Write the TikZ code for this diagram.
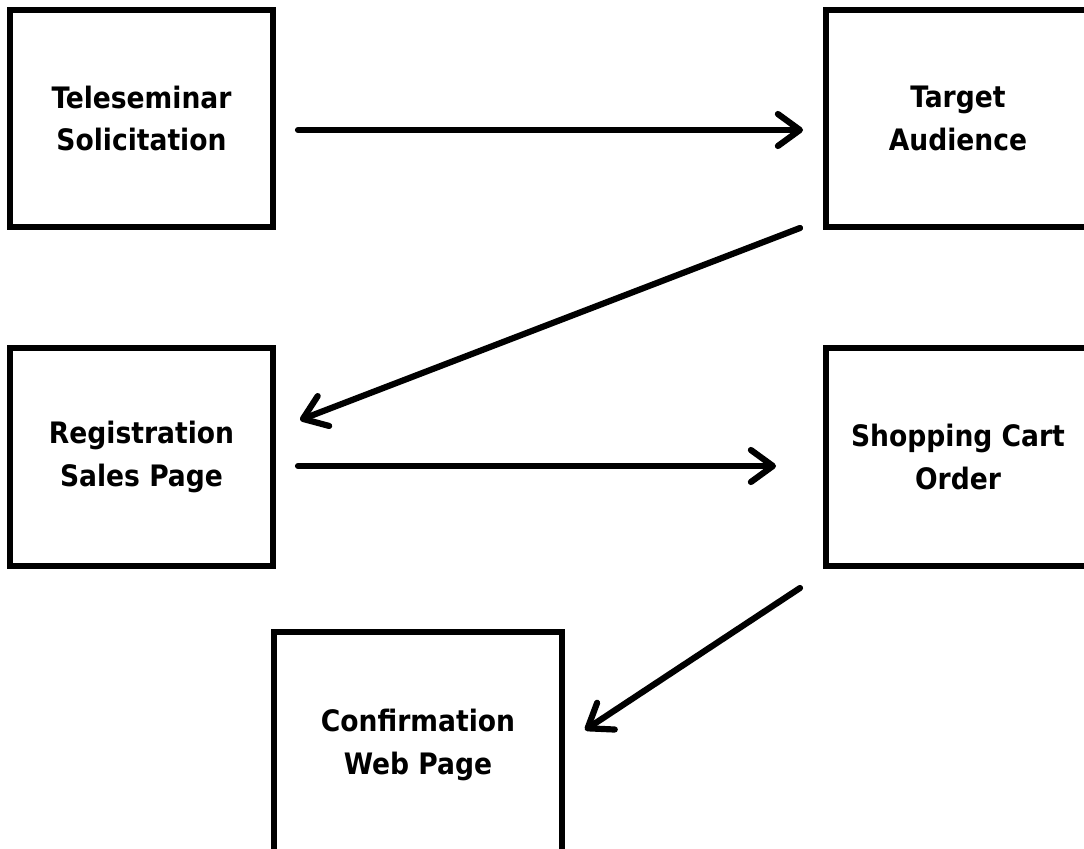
\documentclass[tikz,border=0pt]{standalone}
\usepackage{fontspec}
\setmainfont{DejaVu Sans Condensed}
\usetikzlibrary{arrows.meta}
\begin{document}
\begin{tikzpicture}[x=0.025cm, y=-0.025cm,
    stepbox/.style={draw, line width=4.4pt, outer sep=0pt, inner sep=0pt,
        align=center, font=\bfseries\fontsize{21}{30}\selectfont},
    flow/.style={line width=4.4pt, line cap=round,
        -{Straight Barb[length=0.55cm, width=0.8cm, line cap=round, line join=round]}}]
    \clip (0,0) rectangle (1084,848);

    \node[stepbox, minimum width=263*0.025cm, minimum height=217*0.025cm] (tele) at (141.5,118.5) {Teleseminar\\Solicitation};
    \node[stepbox, minimum width=264*0.025cm, minimum height=217*0.025cm] (target) at (958,118.5) {Target\\Audience};
    \node[stepbox, minimum width=263*0.025cm, minimum height=218*0.025cm] (reg) at (141.5,457) {Registration\\Sales Page};
    \node[stepbox, minimum width=264*0.025cm, minimum height=218*0.025cm] (cart) at (958,457) {Shopping Cart\\Order};
    \node[stepbox, minimum width=288*0.025cm, minimum height=226*0.025cm] (conf) at (418,745) {Confirmation\\Web Page};

    \draw[flow] ([shift={(25,11.5)}]tele.east) -- ([shift={(-23,11.5)}]target.west);
    \draw[flow] ([shift={(-26,1)}]target.south west) -- ([shift={(27,-37)}]reg.east);
    \draw[flow] ([shift={(25,9)}]reg.east) -- ([shift={(-50,9)}]cart.west);
    \draw[flow] ([shift={(-26,22)}]cart.south west) -- ([shift={(23,-15)}]conf.east);
\end{tikzpicture}
\end{document}
